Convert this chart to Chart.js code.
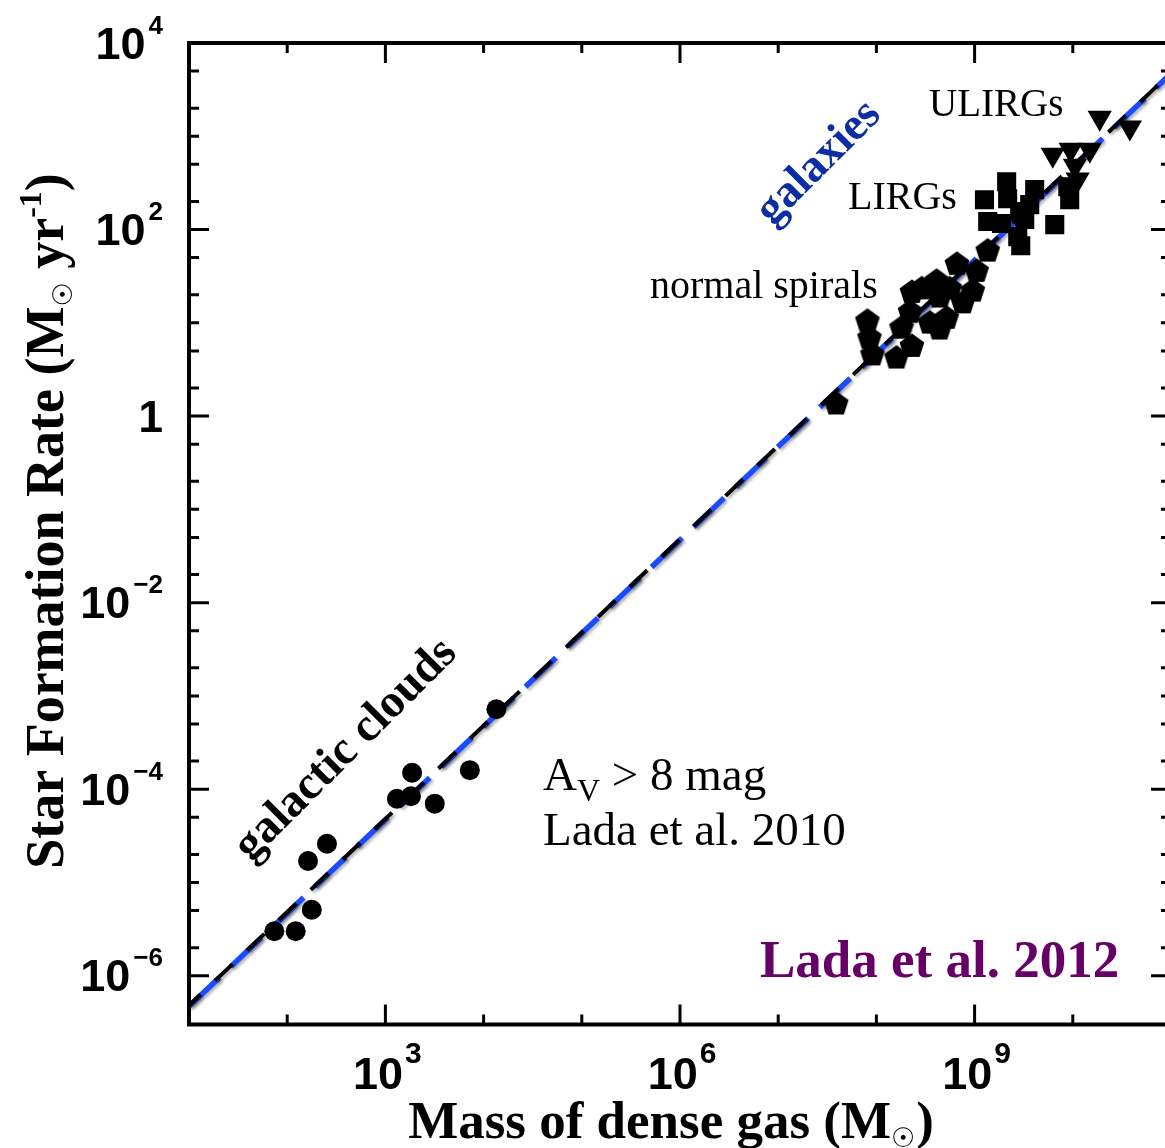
<!DOCTYPE html>
<html><head><meta charset="utf-8">
<script src="https://cdn.jsdelivr.net/npm/chart.js@4.4.1/dist/chart.umd.min.js"></script>
<style>
html,body{margin:0;padding:0;background:#fff;overflow:hidden;}
#wrap{position:relative;width:1190px;height:1148px;}
</style></head><body>
<div id="wrap"><canvas id="c" width="1190" height="1148"></canvas></div>
<script>
// ---- data ----
const cloudMass = [74, 122, 178, 163, 254, 1310, 1820, 1870, 3180, 7240, 13500];
const cloudSFR  = [3.0e-6, 3.0e-6, 5.1e-6, 1.7e-5, 2.6e-5, 7.9e-5, 8.4e-5, 1.5e-4, 7.0e-5, 1.6e-4, 7.2e-4];

const spiralMass = [3.9e7, 8.1e7, 8.5e7, 9.1e7, 1.6e8, 1.8e8, 2.2e8, 2.3e8, 2.3e8, 2.9e8, 4.1e8, 4.4e8, 4.4e8, 5.2e8, 3.5e8, 6.6e8, 7.6e8, 9.6e8, 1.05e9, 1.36e9, 5.6e8];
const spiralSFR  = [1.4, 10.8, 7.1, 4.7, 4.35, 9.1, 13.5, 5.8, 22, 24, 29, 19.6, 8.9, 11.6, 10.3, 44, 17, 22.7, 37, 61, 24];

const lirgMass = [1.26e9, 2.12e9, 2.17e9, 1.36e9, 1.88e9, 2.88e9, 4.09e9, 3.64e9, 2.75e9, 2.95e9, 6.55e9, 9.3e9, 3.24e9, 8.9e9];
const lirgSFR  = [209, 326, 214, 122, 116, 156, 268, 185, 84, 67, 113, 209, 128, 288];

const ulirgMass = [1.88e10, 3.81e10, 6.25e9, 9.5e9, 1.49e10, 1.05e10, 1.12e10];
const ulirgSFR  = [1580, 1240, 635, 718, 718, 484, 343];

const fitMass     = [10, 1e11];
const fitSFRBlue  = [4.7e-7, 4.7e3];
const fitSFRBlack = [4.8e-7, 4.8e3];

const xRange = [10, 1e11];
const yRange = [3e-7, 1e4];
const xTickValues = [1e1,1e2,1e3,1e4,1e5,1e6,1e7,1e8,1e9,1e10,1e11];
const xLabelPowers = [3, 6, 9];
const yTickValues = [1e-6,2e-6,5e-6,1e-5,2e-5,5e-5,1e-4,2e-4,5e-4,1e-3,2e-3,5e-3,1e-2,2e-2,5e-2,0.1,0.2,0.5,1,2,5,10,20,50,100,200,500,1e3,2e3,5e3,1e4];
const yLabelPowers = [4, 2, 0, -2, -4, -6];

// ---- helpers ----
function pts(xs, ys){ return xs.map((x,i)=>({x:x, y:ys[i]})); }
function makePentagon(R){
  const s = Math.ceil(2*R+4);
  const c = document.createElement('canvas'); c.width = s; c.height = s;
  const g = c.getContext('2d'); g.fillStyle = '#000'; g.beginPath();
  for (let i=0;i<5;i++){ const a=-Math.PI/2+i*2*Math.PI/5; const px=s/2+R*Math.cos(a), py=s/2+R*Math.sin(a)+1.5; i?g.lineTo(px,py):g.moveTo(px,py); }
  g.closePath(); g.fill(); return c;
}
function drawParts(ctx, parts, x, y, align){
  let total = 0;
  parts.forEach(p=>{ ctx.font = p.f; p.w = ctx.measureText(p.t).width; total += p.w + (p.gap||0); });
  let cx = align==='center' ? x - total/2 : (align==='right' ? x - total : x);
  parts.forEach(p=>{ ctx.font = p.f; ctx.fillStyle = p.c || '#000'; ctx.fillText(p.t, cx + (p.gap||0), y + (p.dy||0)); cx += p.w + (p.gap||0); });
}
const pent = makePentagon(13);
const SERIF = '"Liberation Serif","Times New Roman",serif';
const SANS = '"Liberation Sans",Arial,sans-serif';

const decor = {
  id: 'decor',
  beforeDatasetDraw(chart, args){
    if (chart.data.datasets[args.index].isFit){
      const ctx = chart.ctx; ctx.save();
      ctx.shadowColor = 'rgba(0,0,0,0.3)'; ctx.shadowBlur = 3; ctx.shadowOffsetX = 2; ctx.shadowOffsetY = 2;
    }
  },
  afterDatasetDraw(chart, args){
    if (chart.data.datasets[args.index].isFit) chart.ctx.restore();
  },
  afterDraw(chart){
    const ctx = chart.ctx, a = chart.chartArea, xs = chart.scales.x, ys = chart.scales.y;
    ctx.save();
    ctx.strokeStyle = '#000'; ctx.lineWidth = 4; ctx.lineCap = 'butt';
    ctx.strokeRect(a.left, a.top, a.right - a.left, a.bottom - a.top);
    ctx.lineWidth = 3;
    xTickValues.forEach(v=>{
      const px = xs.getPixelForValue(v);
      const major = xLabelPowers.some(p=>Math.abs(Math.log10(v)-p)<1e-6);
      const len = major ? 20 : 10;
      ctx.beginPath(); ctx.moveTo(px, a.bottom); ctx.lineTo(px, a.bottom - len);
      ctx.moveTo(px, a.top); ctx.lineTo(px, a.top + len); ctx.stroke();
    });
    yTickValues.forEach(v=>{
      const py = ys.getPixelForValue(v);
      const major = yLabelPowers.some(p=>Math.abs(Math.log10(v)-p)<1e-6);
      const len = major ? 20 : 10;
      ctx.beginPath(); ctx.moveTo(a.left, py); ctx.lineTo(a.left + len, py);
      ctx.moveTo(a.right, py); ctx.lineTo(a.right - len, py); ctx.stroke();
    });
    // tick labels
    ctx.textBaseline = 'alphabetic';
    yLabelPowers.forEach(p=>{
      const py = ys.getPixelForValue(Math.pow(10,p));
      const rx = 163;
      if (p === 0){
        drawParts(ctx, [{t:'1', f:'bold 44px '+SANS}], rx, py+15.5, 'right');
      } else {
        const e = (p<0?'\u2212':'') + Math.abs(p);
        drawParts(ctx, [{t:'10', f:'bold 45px '+SANS}, {t:e, f:'bold 26px '+SANS, dy:-25, gap:3}], rx, py+15.5, 'right');
      }
    });
    xLabelPowers.forEach(p=>{
      const px = xs.getPixelForValue(Math.pow(10,p));
      drawParts(ctx, [{t:'10', f:'bold 45px '+SANS}, {t:String(p), f:'bold 30px '+SANS, dy:-26, gap:2}], px+2, 1089, 'center');
    });
    // axis titles
    drawParts(ctx, [
      {t:'Mass of dense gas (M', f:'bold 53px '+SERIF},
      {t:'\u2609', f:'27px "DejaVu Sans"', dy:9},
      {t:')', f:'bold 53px '+SERIF, gap:1}
    ], 671, 1138, 'center');
    ctx.save();
    ctx.translate(63, 521); ctx.rotate(-Math.PI/2);
    drawParts(ctx, [
      {t:'Star Formation Rate (M', f:'bold 54px '+SERIF},
      {t:'\u2609', f:'27px "DejaVu Sans"', dy:9},
      {t:' yr', f:'bold 54px '+SERIF},
      {t:'-1', f:'bold 32px '+SERIF, dy:-22},
      {t:')', f:'bold 54px '+SERIF}
    ], 0, 0, 'center');
    ctx.restore();
    // annotations
    drawParts(ctx, [{t:'ULIRGs', f:'39px '+SERIF}], 929, 116, 'left');
    drawParts(ctx, [{t:'LIRGs', f:'40px '+SERIF}], 848, 209, 'left');
    drawParts(ctx, [{t:'normal spirals', f:'40px '+SERIF}], 650, 298, 'left');
    drawParts(ctx, [{t:'A', f:'47px '+SERIF}, {t:'V', f:'32px '+SERIF, dy:11}, {t:' > 8 mag', f:'47px '+SERIF}], 543, 790, 'left');
    drawParts(ctx, [{t:'Lada et al. 2010', f:'47px '+SERIF}], 543, 845, 'left');
    drawParts(ctx, [{t:'Lada et al. 2012', f:'bold 53px '+SERIF, c:'#660066'}], 760, 977, 'left');
    ctx.save(); ctx.translate(819, 163); ctx.rotate(-Math.PI/4);
    ctx.textBaseline = 'middle';
    drawParts(ctx, [{t:'galaxies', f:'bold 46px '+SERIF, c:'#0d2ea0'}], 0, 0, 'center');
    ctx.restore();
    ctx.save(); ctx.translate(346, 750); ctx.rotate(-Math.PI/4);
    ctx.textBaseline = 'middle';
    drawParts(ctx, [{t:'galactic clouds', f:'bold 47px '+SERIF}], 0, 0, 'center');
    ctx.restore();
    ctx.restore();
  }
};

new Chart(document.getElementById('c'), {
  type: 'scatter',
  data: { datasets: [
    {label:'clouds', data:pts(cloudMass, cloudSFR), pointStyle:'circle', pointRadius:10, backgroundColor:'#000', borderWidth:0, order:0},
    {label:'spirals', data:pts(spiralMass, spiralSFR), pointStyle:pent, backgroundColor:'#000', borderWidth:0, order:0},
    {label:'LIRGs', data:pts(lirgMass, lirgSFR), pointStyle:'rect', pointRadius:13.5, backgroundColor:'#000', borderWidth:0, order:0},
    {label:'ULIRGs', data:pts(ulirgMass, ulirgSFR), pointStyle:'triangle', rotation:180, pointRadius:14, backgroundColor:'#000', borderWidth:0, order:0},
    {label:'fit blue', isFit:true, type:'line', data:pts(fitMass, fitSFRBlue), borderColor:'#1a4cff', borderWidth:5.5, borderDash:[42,16], pointRadius:0, fill:false, order:2},
    {label:'fit black', isFit:true, type:'line', data:pts(fitMass, fitSFRBlack), borderColor:'#000', borderWidth:4, borderDash:[24,20], borderDashOffset:8, pointRadius:0, fill:false, order:1}
  ]},
  options: {
    responsive:false, animation:false, devicePixelRatio:1,
    layout:{padding:{left:189, top:43, right:19, bottom:123.5}},
    plugins:{legend:{display:false}, tooltip:{enabled:false}},
    scales:{
      x:{type:'logarithmic', min:xRange[0], max:xRange[1], display:false},
      y:{type:'logarithmic', min:yRange[0], max:yRange[1], display:false}
    }
  },
  plugins:[decor]
});
</script>
</body></html>
